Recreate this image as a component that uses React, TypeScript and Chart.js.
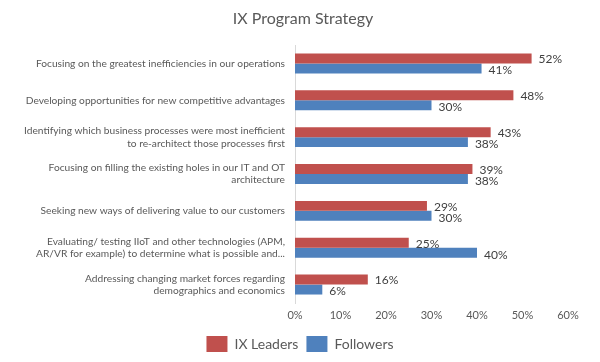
import React, { useEffect, useRef } from "react";
import { Chart, registerables } from "chart.js";

Chart.register(...registerables);

const title = "IX Program Strategy";
const categories: (string | string[])[] = [
  "Focusing on the greatest inefficiencies in our operations",
  "Developing opportunities for new competitive advantages",
  ["Identifying which business processes were most inefficient", "to re-architect those processes first"],
  ["Focusing on filling the existing holes in our IT and OT", "architecture"],
  "Seeking new ways of delivering value to our customers",
  ["Evaluating/ testing IIoT and other technologies (APM,", "AR/VR for example) to determine what is possible and..."],
  ["Addressing changing market forces regarding", "demographics and economics"],
];
const leaders = [52, 48, 43, 39, 29, 25, 16];
const followers = [41, 30, 38, 38, 30, 40, 6];
const xTicks = [0, 10, 20, 30, 40, 50, 60];

const FONT = "Lato, 'DejaVu Sans', sans-serif";
const TEXT = "#595959";

const valueLabels = {
  id: "valueLabels",
  afterDatasetsDraw(chart: any) {
    const ctx = chart.ctx;
    ctx.save();
    ctx.font = `12px ${FONT}`;
    ctx.fillStyle = "#404040";
    ctx.textAlign = "left";
    ctx.textBaseline = "middle";
    chart.data.datasets.forEach((ds: any, di: number) => {
      const meta = chart.getDatasetMeta(di);
      meta.data.forEach((bar: any, i: number) => {
        ctx.fillText(ds.data[i] + "%", bar.x + 7, bar.y + (di === 0 ? 1 : 2));
      });
    });
    ctx.restore();
  },
};

const titlePlugin = {
  id: "customTitle",
  afterDraw(chart: any) {
    const ctx = chart.ctx;
    ctx.save();
    ctx.font = `16px ${FONT}`;
    ctx.fillStyle = TEXT;
    ctx.textAlign = "center";
    ctx.textBaseline = "middle";
    ctx.fillText(title, 303, 19);
    ctx.restore();
  },
};

export default function App() {
  const ref = useRef<HTMLCanvasElement>(null);
  useEffect(() => {
    if (!ref.current) return;
    const chart = new Chart(ref.current, {
      type: "bar",
      data: {
        labels: categories,
        datasets: [
          { label: "IX Leaders", data: leaders, backgroundColor: "#C0504D", categoryPercentage: 0.54, barPercentage: 1 },
          { label: "Followers", data: followers, backgroundColor: "#4F81BD", categoryPercentage: 0.54, barPercentage: 1 },
        ],
      },
      options: {
        indexAxis: "y",
        animation: false,
        responsive: false,
        layout: { padding: { left: 0, right: 0, top: 45, bottom: 0 } },
        plugins: {
          title: { display: false },
          legend: {
            position: "bottom",
            labels: {
              color: TEXT,
              font: { family: FONT, size: 14 },
              boxWidth: 21,
              boxHeight: 16,
              padding: 8,
            },
          },
          tooltip: { enabled: false },
        },
        scales: {
          x: {
            min: 0,
            max: 60,
            afterBuildTicks: (scale: any) => {
              scale.ticks = xTicks.map((v) => ({ value: v }));
            },
            afterFit: (scale: any) => {
              scale.paddingRight = 32;
              scale.height = 25;
            },
            ticks: {
              color: TEXT,
              font: { family: FONT, size: 11 },
              padding: 6,
              callback: (v: any) => v + "%",
            },
            grid: { display: false, drawTicks: false },
            border: { display: false },
          },
          y: {
            afterFit: (scale: any) => {
              scale.width = 295;
            },
            ticks: {
              color: TEXT,
              font: { family: FONT, size: 10.2 },
              padding: 2,
              autoSkip: false,
            },
            grid: { display: false },
            border: { display: true, color: "#D9D9D9" },
          },
        },
      },
      plugins: [valueLabels, titlePlugin],
    });
    return () => chart.destroy();
  }, []);
  return (
    <div style={{ position: "fixed", left: 0, top: 0, width: 600, height: 362, background: "#fff" }}>
      <canvas ref={ref} width={600} height={362} />
    </div>
  );
}
